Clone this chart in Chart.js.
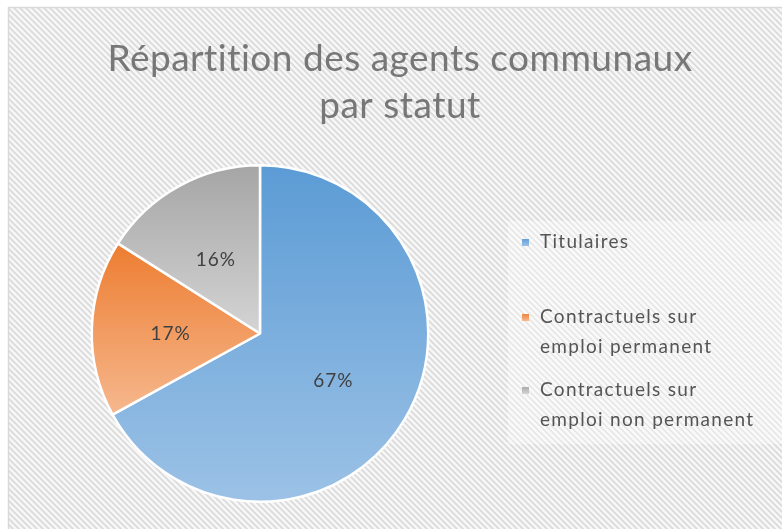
<!DOCTYPE html>
<html>
<head>
<meta charset="utf-8">
<script src="https://cdn.jsdelivr.net/npm/chart.js@4"></script>
<style>
  html, body { margin: 0; padding: 0; background: #fff; }
  #wrap { position: relative; width: 782px; height: 529px; }
</style>
</head>
<body>
<div id="wrap"><canvas id="graphique" width="782" height="529"></canvas></div>
<script>
// données du graphique
const titre = ['Répartition des agents communaux', 'par statut'];
const statuts = ['Titulaires', 'Contractuels sur\nemploi permanent', 'Contractuels sur\nemploi non permanent'];
const pourcentages = [67, 17, 16];
const couleursHaut = ['#5b9bd5', '#ed7d31', '#a5a5a5'];
const couleursBas = ['#9cc2e6', '#f6b88e', '#d4d4d4'];

const POLICE = 'Lato, "Open Sans", sans-serif';

// motif hachuré du fond
function motifHachure(ctx) {
  const c = document.createElement('canvas');
  c.width = 6; c.height = 6;
  const g = c.getContext('2d');
  g.fillStyle = '#f7f7f7';
  g.fillRect(0, 0, 6, 6);
  g.strokeStyle = '#dadada';
  g.lineWidth = 1.7;
  for (let k = -1; k <= 1; k++) {
    g.beginPath();
    g.moveTo(k * 6 - 1, -1);
    g.lineTo(k * 6 + 7, 7);
    g.stroke();
  }
  return ctx.createPattern(c, 'repeat');
}

// étendue verticale d'une part (pour le dégradé)
function bornesPart(chart, i) {
  const a = chart.chartArea;
  const cx = (a.left + a.right) / 2, cy = (a.top + a.bottom) / 2;
  const r = Math.min(a.right - a.left, a.bottom - a.top) / 2;
  const total = pourcentages.reduce((s, v) => s + v, 0);
  let debut = 0;
  for (let k = 0; k < i; k++) debut += pourcentages[k] / total;
  const fin = debut + pourcentages[i] / total;
  let ymin = cy, ymax = cy;
  for (let t = debut; t <= fin + 1e-9; t += 0.002) {
    const y = cy - r * Math.cos(t * 2 * Math.PI);
    ymin = Math.min(ymin, y); ymax = Math.max(ymax, y);
  }
  return [ymin, ymax];
}

const fondPlugin = {
  id: 'fond',
  beforeDraw(chart) {
    const ctx = chart.ctx;
    ctx.save();
    ctx.fillStyle = '#fff';
    ctx.fillRect(0, 0, chart.width, chart.height);
    ctx.fillStyle = motifHachure(ctx);
    ctx.fillRect(8, 7, chart.width - 8, chart.height - 7);
    ctx.strokeStyle = '#d9d9d9';
    ctx.lineWidth = 1.5;
    ctx.beginPath();
    ctx.moveTo(8.5, chart.height);
    ctx.lineTo(8.5, 7.5);
    ctx.lineTo(chart.width, 7.5);
    ctx.stroke();
    // zone claire de la légende
    ctx.fillStyle = 'rgba(255,255,255,0.35)';
    ctx.fillRect(508, 221, chart.width - 508, 223);
    ctx.restore();
  }
};

const textesPlugin = {
  id: 'textes',
  afterDraw(chart) {
    const ctx = chart.ctx;
    ctx.save();
    // titre
    ctx.fillStyle = '#777777';
    ctx.font = '37px ' + POLICE;
    ctx.letterSpacing = '0.5px';
    ctx.textAlign = 'center';
    ctx.textBaseline = 'middle';
    titre.forEach((l, i) => ctx.fillText(l, 400, 59 + i * 47));

    // étiquettes de pourcentage
    const meta = chart.getDatasetMeta(0);
    ctx.fillStyle = '#404040';
    ctx.font = '19px ' + POLICE;
    ctx.letterSpacing = '1px';
    meta.data.forEach((arc, i) => {
      const p = arc.getProps(['x', 'y', 'startAngle', 'endAngle', 'outerRadius'], true);
      const m = (p.startAngle + p.endAngle) / 2;
      const d = p.outerRadius * 0.52;
      ctx.fillText(pourcentages[i] + '%', p.x + Math.cos(m) * d - 2, p.y + Math.sin(m) * d + 3);
    });

    // légende
    const ys = [242, 317, 390];
    ctx.textAlign = 'left';
    ctx.letterSpacing = '1.3px';
    statuts.forEach((s, i) => {
      const g = ctx.createLinearGradient(0, ys[i] - 4, 0, ys[i] + 4);
      g.addColorStop(0, couleursHaut[i]);
      g.addColorStop(1, couleursBas[i]);
      ctx.fillStyle = g;
      ctx.fillRect(522, ys[i] - 3, 7, 7);
      ctx.fillStyle = '#555555';
      s.split('\n').forEach((l, j) => ctx.fillText(l, 540, ys[i] + j * 30));
    });
    ctx.restore();
  }
};

new Chart(document.getElementById('graphique'), {
  type: 'pie',
  data: {
    labels: statuts,
    datasets: [{
      data: pourcentages,
      backgroundColor(context) {
        const chart = context.chart;
        const i = context.dataIndex;
        if (!chart.chartArea || i === undefined) return couleursHaut[i || 0];
        const [y0, y1] = bornesPart(chart, i);
        const g = chart.ctx.createLinearGradient(0, y0, 0, y1);
        g.addColorStop(0, couleursHaut[i]);
        g.addColorStop(1, couleursBas[i]);
        return g;
      },
      borderColor: '#ffffff',
      borderWidth: 2.5
    }]
  },
  options: {
    responsive: false,
    animation: false,
    layout: { padding: { left: 90, right: 352, top: 164, bottom: 26 } },
    plugins: {
      legend: { display: false },
      title: { display: false },
      tooltip: { enabled: false }
    }
  },
  plugins: [fondPlugin, textesPlugin]
});
</script>
</body>
</html>
